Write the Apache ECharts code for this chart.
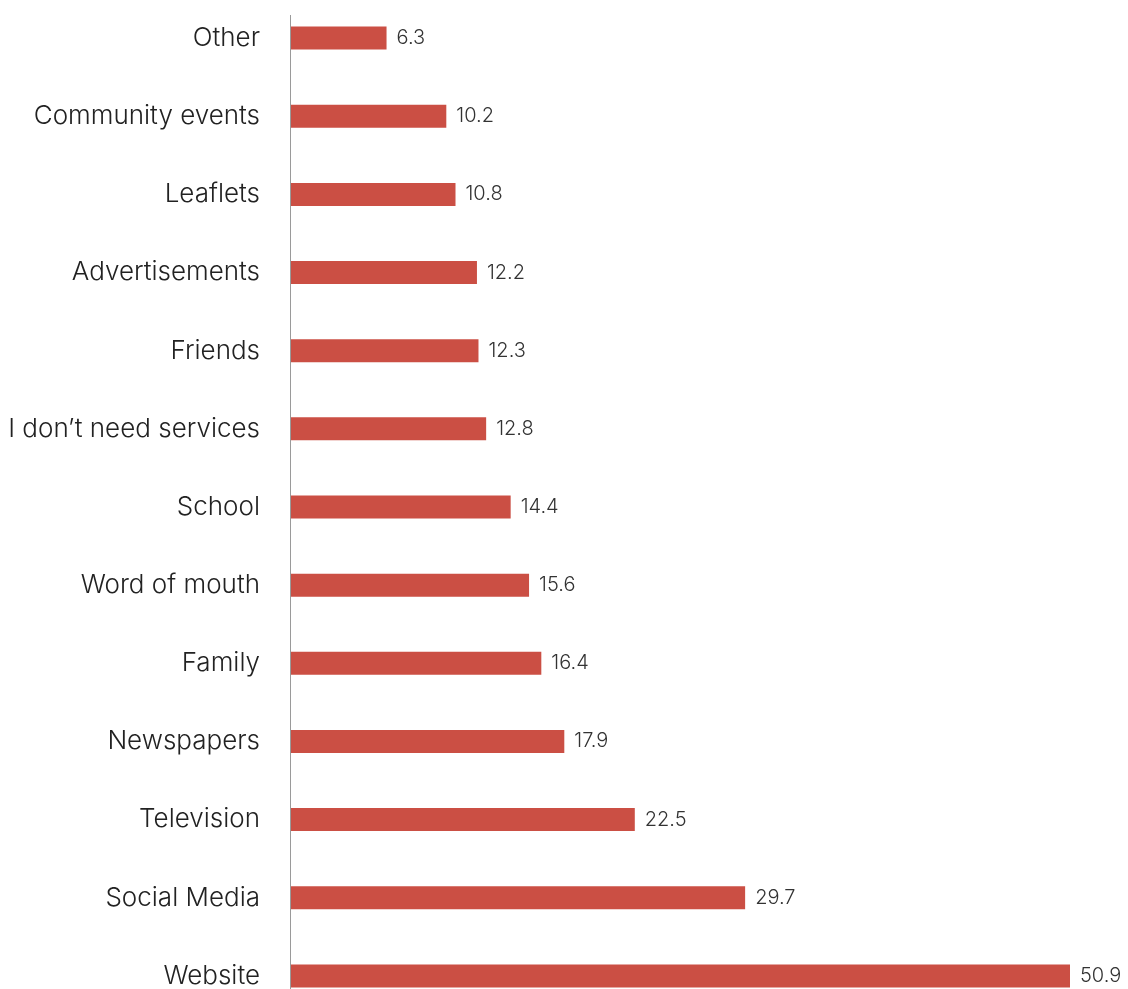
<!DOCTYPE html>
<html>
<head>
<meta charset="utf-8">
<script src="https://cdn.jsdelivr.net/npm/echarts@6/dist/echarts.min.js"></script>
<style>
  html, body { margin: 0; padding: 0; background: #ffffff; }
  #chart { width: 1128px; height: 989px; }
</style>
</head>
<body>
<div id="chart"></div>
<script>
// Sources of information, share of respondents (%)
const categories = [
  'Website', 'Social Media', 'Television', 'Newspapers', 'Family',
  'Word of mouth', 'School', 'I don\u2019t need services', 'Friends',
  'Advertisements', 'Leaflets', 'Community events', 'Other'
];
const values = [50.9, 29.7, 22.5, 17.9, 16.4, 15.6, 14.4, 12.8, 12.3, 12.2, 10.8, 10.2, 6.3];

const chart = echarts.init(document.getElementById('chart'));

chart.setOption({
  animation: false,
  backgroundColor: '#ffffff',
  grid: {
    left: 290, width: 780, top: -1, height: 1016,
    containLabel: false,
    outerBoundsMode: 'none'
  },
  xAxis: {
    type: 'value',
    min: 0,
    max: 50.9,
    show: false
  },
  yAxis: {
    type: 'category',
    data: categories,
    axisLine: { show: false },
    axisTick: { show: false },
    axisLabel: {
      margin: 30,
      color: '#222222',
      fontFamily: 'Inter',
      fontWeight: 300,
      fontSize: 26
    }
  },
  series: [{
    type: 'bar',
    data: values,
    barWidth: 23,
    itemStyle: { color: '#CB4F44' },
    label: {
      show: true,
      position: 'right',
      distance: 10,
      color: '#333333',
      fontFamily: 'Inter',
      fontWeight: 300,
      fontSize: 20,
      formatter: p => p.value.toFixed(1)
    }
  }],
  graphic: [{
    type: 'line',
    shape: { x1: 290.5, y1: 15, x2: 290.5, y2: 989 },
    style: { stroke: '#9a9a9a', lineWidth: 1 },
    z: 10
  }]
});
</script>
</body>
</html>
